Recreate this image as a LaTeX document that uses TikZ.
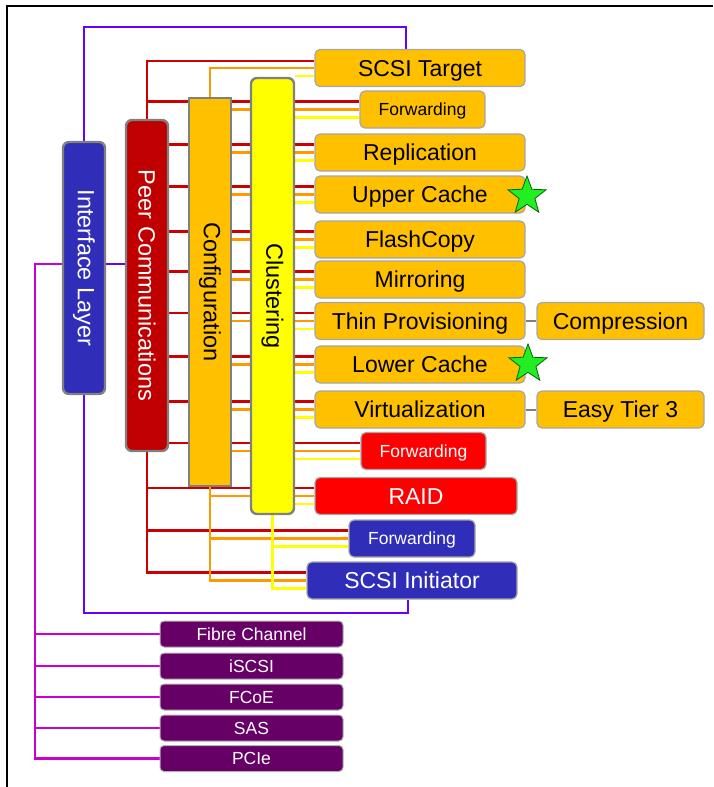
\documentclass[tikz,border=0pt]{standalone}
\usepackage{fontspec}
\usepackage{graphicx}
\setmainfont{Liberation Sans}
\usetikzlibrary{shapes.geometric,backgrounds}

\definecolor{boxorange}{RGB}{255,192,0}
\definecolor{peerred}{RGB}{192,0,0}
\definecolor{boxred}{RGB}{255,0,0}
\definecolor{boxblue}{RGB}{48,46,184}
\definecolor{boxpurple}{RGB}{102,0,102}
\definecolor{lnred}{RGB}{204,0,0}
\definecolor{lnorange}{RGB}{255,153,0}
\definecolor{lnyellow}{RGB}{255,255,0}
\definecolor{lnviolet}{RGB}{102,0,255}
\definecolor{lnmagenta}{RGB}{204,0,204}
\definecolor{starfill}{RGB}{34,238,34}

\tikzset{
  layer/.style={draw=gray, line width=2.4pt, minimum width=42pt, inner sep=0pt,
    font=\fontsize{23.5}{27}\selectfont},
  module/.style={draw=black!35, line width=1.2pt, rounded corners=5pt, fill=boxorange,
    minimum width=210pt, minimum height=37pt, inner sep=0pt, text height=16.5pt, text depth=0pt,
    font=\fontsize{23}{27}\selectfont},
  fwd/.style={minimum width=125pt, text height=12.5pt, font=\fontsize{17.5}{21}\selectfont},
  port/.style={draw=black!30, line width=1pt, rounded corners=4pt, fill=boxpurple, text=white,
    minimum width=183pt, minimum height=26pt, inner sep=0pt, text height=12.5pt, text depth=0pt,
    font=\fontsize{17.5}{20}\selectfont},
  redln/.style={draw=lnred, line width=2.2pt},
  orgln/.style={draw=lnorange, line width=2.2pt},
  yelln/.style={draw=lnyellow, line width=2.2pt},
  violn/.style={draw=lnviolet, line width=2.2pt},
  magln/.style={draw=lnmagenta, line width=2.2pt},
  grayln/.style={draw=gray, line width=2pt},
  goodstar/.style={star, star points=5, star point ratio=2.4, fill=starfill,
    draw=black!60!green, line width=0.8pt, minimum size=40pt, inner sep=0pt}
}

\begin{document}
\begin{tikzpicture}[x=1pt, y=-1pt]
    \useasboundingbox (0,0) rectangle (713,787);
    % frame
    \draw[line width=1.2pt] (7,787) -- (7,6) -- (713,6);

    % the four layers
    \node[layer, fill=boxblue, rounded corners=6pt, minimum height=252pt, text=white]
        (iface) at (84,268) {\rotatebox{-90}{Interface Layer}};
    \node[layer, fill=peerred, rounded corners=6pt, minimum height=331pt, text=white]
        (peer) at (147,285.5) {\rotatebox{-90}{Peer Communications}};
    \node[layer, fill=boxorange, minimum height=388pt]
        (config) at (210,292) {\rotatebox{-90}{Configuration}};
    \node[layer, fill=lnyellow, rounded corners=6pt, minimum width=43pt, minimum height=436pt]
        (clust) at (272.5,296) {\rotatebox{-90}{Clustering}};

    % the stack
    \node[module] (target) at (420,68) {SCSI Target};
    \node[module, fwd] (fwda) at (422.5,109.5) {Forwarding};
    \node[module] (repl) at (420,152.5) {Replication};
    \node[module] (upper) at (420,194.5) {Upper Cache};
    \node[module] (flash) at (420,239.5) {FlashCopy};
    \node[module] (mirror) at (420,279.5) {Mirroring};
    \node[module] (thin) at (420,321) {Thin Provisioning};
    \node[module, minimum width=167pt] (compr) at (620.5,321) {Compression};
    \node[module] (lower) at (420,364.5) {Lower Cache};
    \node[module] (virt) at (420,409.5) {Virtualization};
    \node[module, minimum width=167pt] (easy) at (620.5,409.5) {Easy Tier 3};
    \node[module, fwd, fill=boxred, text=white] (fwdb) at (423.5,451) {Forwarding};
    \node[module, fill=boxred, text=white, minimum width=202pt] (raid) at (416,496) {RAID};
    \node[module, fwd, fill=boxblue, text=white, minimum width=126pt] (fwdc) at (412,538.5) {Forwarding};
    \node[module, fill=boxblue, text=white] (init) at (412,580.5) {SCSI Initiator};

    \node[goodstar] (staru) at (527,196) {};
    \node[goodstar] (starl) at (528,364) {};

    % host ports
    \node[port] (fc) at (251.5,634) {Fibre Channel};
    \node[port] (iscsi) at (251.5,666) {iSCSI};
    \node[port] (fcoe) at (251.5,697) {FCoE};
    \node[port] (sas) at (251.5,728) {SAS};
    \node[port] (pcie) at (251.5,758.5) {PCIe};
    \coordinate (bus) at (35,264);

    \begin{scope}[on background layer]
        % interface layer
        \draw[violn] (iface.north) |- ([xshift=-14pt,yshift=22pt]target.north) -- ([xshift=-14pt]target.north);
        \draw[violn] (iface.south) |- ([xshift=-4pt,yshift=-13pt]init.south) -- ([xshift=-4pt]init.south);
        \draw[violn] ([yshift=4pt]iface.east) -- ([yshift=4pt]iface.east -| peer.west);
        \draw[magln] ([yshift=4pt]iface.west) -- (bus) -- (bus |- pcie.west) -- (pcie.west);
        \foreach \p in {fc,iscsi,fcoe,sas}
            \draw[magln] (\p.west -| bus) -- (\p.west);

        % peer communications
        \draw[redln] (peer.north) |- ([yshift=7pt]target.west);
        \draw[redln] ([yshift=8pt]fwda.west -| peer.north) -- ([yshift=8pt]fwda.west);
        \foreach \b in {repl,upper,flash,mirror,thin,lower,virt,fwdb}
            \draw[redln] ([yshift=8pt]\b.west -| peer.east) -- ([yshift=8pt]\b.west);
        \draw[redln] (peer.south) |- ([yshift=8pt]init.west);
        \foreach \b in {raid,fwdc}
            \draw[redln] ([yshift=8pt]\b.west -| peer.south) -- ([yshift=8pt]\b.west);

        % configuration
        \draw[orgln] (config.north) |- (target.west);
        \foreach \b in {fwda,repl,upper,flash,mirror,thin,lower,virt,fwdb}
            \draw[orgln] (\b.west -| config.east) -- (\b.west);
        \draw[orgln] (config.south) |- (init.west);
        \foreach \b in {raid,fwdc}
            \draw[orgln] (\b.west -| config.south) -- (\b.west);

        % clustering
        \foreach \b in {target,fwda,repl,upper,flash,mirror,thin,lower,virt,fwdb,raid}
            \draw[yelln] ([yshift=-8pt]\b.west -| clust.east) -- ([yshift=-8pt]\b.west);
        \draw[yelln] (clust.south) |- ([yshift=-8pt]init.west);
        \draw[yelln] ([yshift=-8pt]fwdc.west -| clust.south) -- ([yshift=-8pt]fwdc.west);

        % extras
        \draw[grayln] (thin) -- (compr);
        \draw[grayln] (virt) -- (easy);
    \end{scope}
\end{tikzpicture}
\end{document}
